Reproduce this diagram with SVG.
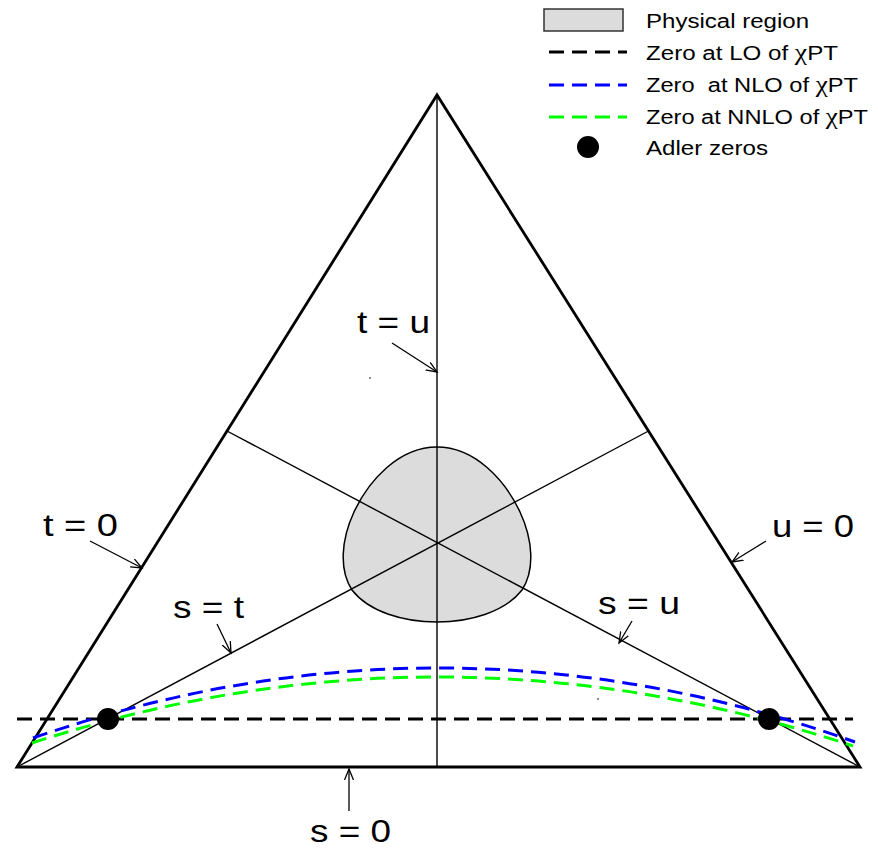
<svg xmlns="http://www.w3.org/2000/svg" width="878" height="849" viewBox="0 0 878 849">
<style>
.lbl{font-family:"Liberation Sans",Arial,sans-serif;font-size:31px;fill:#000}
.leg{font-family:"Liberation Sans",Arial,sans-serif;font-size:20px;fill:#000}
.chi{font-family:"Liberation Serif","DejaVu Serif",serif;font-size:23px}
.side{stroke:#000;stroke-width:2.8;fill:none;stroke-linejoin:miter}
.med{stroke:#000;stroke-width:1.4;fill:none}
.arr{stroke:#000;stroke-width:1.3;fill:none;marker-end:url(#ah)}
.dash{fill:none;stroke-width:3;stroke-dasharray:15 8}
.phys{fill:#dcdcdc;stroke:#000;stroke-width:1.5}
</style>
<defs>
<marker id="ah" markerUnits="userSpaceOnUse" markerWidth="14" markerHeight="12" refX="11" refY="5" orient="auto">
<path d="M0,0.5 L11,5 L0,9.5" fill="none" stroke="#000" stroke-width="1.3"/>
</marker>
</defs>
<rect width="878" height="849" fill="#fff"/>

<g id="physical-region">
<path class="phys" d="M437,447 C475,447 505,480 520,512 C533,540 535,570 522,590 C505,612 470,622 437,622 C404,622 369,612 352,590 C339,570 341,540 354,512 C369,480 399,447 437,447 Z"/>
</g>

<g id="triangle">
<path class="side" d="M17,767 L437,95 L860,767 Z"/>
</g>

<g id="connectors">
<line class="med" x1="437" y1="95" x2="437" y2="767"/>
<line class="med" x1="17" y1="767" x2="648.5" y2="431"/>
<line class="med" x1="860" y1="767" x2="227" y2="431"/>
<line class="arr" x1="392" y1="343" x2="437" y2="372"/>
<line class="arr" x1="90" y1="541" x2="142" y2="568"/>
<line class="arr" x1="217" y1="624" x2="231" y2="653"/>
<line class="arr" x1="766" y1="541" x2="732" y2="562"/>
<line class="arr" x1="632" y1="621" x2="619" y2="643"/>
<line class="arr" x1="349" y1="811" x2="349" y2="769"/>
</g>

<g id="zero-curves">
<line class="dash" stroke="#000" x1="17" y1="719" x2="853" y2="719"/>
<path class="dash" stroke="#0000ff" d="M33,738 Q444,596 855,742"/>
<path class="dash" stroke="#00ff00" d="M32,743 Q442,609.5 853,746"/>
</g>

<g id="adler-zeros">
<circle cx="108" cy="719" r="11" fill="#000"/>
<circle cx="769" cy="719" r="11" fill="#000"/>
</g>

<g id="specks">
<circle cx="370" cy="378" r="0.8" fill="#000"/>
<circle cx="598" cy="699" r="0.8" fill="#000"/>
</g>

<g id="labels">
<text class="lbl" x="357" y="333" textLength="73" lengthAdjust="spacingAndGlyphs">t = u</text>
<text class="lbl" x="43" y="536" textLength="75" lengthAdjust="spacingAndGlyphs">t = 0</text>
<text class="lbl" x="173" y="618" textLength="71" lengthAdjust="spacingAndGlyphs">s = t</text>
<text class="lbl" x="772" y="537" textLength="82" lengthAdjust="spacingAndGlyphs">u = 0</text>
<text class="lbl" x="598" y="614" textLength="82" lengthAdjust="spacingAndGlyphs">s = u</text>
<text class="lbl" x="310" y="842" textLength="81" lengthAdjust="spacingAndGlyphs">s = 0</text>
</g>

<g id="legend">
<rect x="544" y="9" width="79" height="22" fill="#dcdcdc" stroke="#333" stroke-width="1.5"/>
<text class="leg" x="646" y="28" textLength="163" lengthAdjust="spacingAndGlyphs">Physical region</text>
<line class="dash" stroke="#000" x1="549" y1="52" x2="627" y2="52"/>
<text class="leg" x="646" y="60" textLength="192" lengthAdjust="spacingAndGlyphs">Zero at LO of <tspan class="chi">χ</tspan>PT</text>
<line class="dash" stroke="#0000ff" x1="549" y1="85" x2="627" y2="85"/>
<text class="leg" x="646" y="92" textLength="212" lengthAdjust="spacingAndGlyphs" xml:space="preserve">Zero  at NLO of <tspan class="chi">χ</tspan>PT</text>
<line class="dash" stroke="#00ff00" x1="549" y1="117" x2="627" y2="117"/>
<text class="leg" x="646" y="124" textLength="222" lengthAdjust="spacingAndGlyphs">Zero at NNLO of <tspan class="chi">χ</tspan>PT</text>
<circle cx="588" cy="147" r="11" fill="#000"/>
<text class="leg" x="646" y="155" textLength="122" lengthAdjust="spacingAndGlyphs">Adler zeros</text>
</g>
</svg>
